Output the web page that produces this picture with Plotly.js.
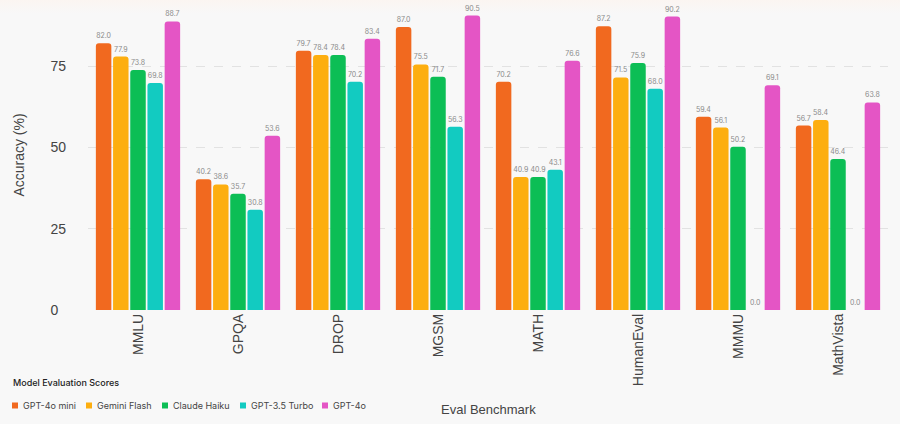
<!DOCTYPE html>
<html>
<head>
<meta charset="utf-8">
<script src="https://cdn.plot.ly/plotly-3.0.1.min.js"></script>
<style>html,body{margin:0;padding:0;background:linear-gradient(#fbf5f1 0px,#f8f8f8 14px,#f8f8f8 100%);}#chart{width:900px;height:424px;}</style>
</head>
<body>
<div id="chart"></div>
<script>
const benchmarks = ["MMLU","GPQA","DROP","MGSM","MATH","HumanEval","MMMU","MathVista"];
const models = ["GPT-4o mini","Gemini Flash","Claude Haiku","GPT-3.5 Turbo","GPT-4o"];
const gpt4oMini = [82.0,40.2,79.7,87.0,70.2,87.2,59.4,56.7];
const geminiFlash = [77.9,38.6,78.4,75.5,40.9,71.5,56.1,58.4];
const claudeHaiku = [73.8,35.7,78.4,71.7,40.9,75.9,50.2,46.4];
const gpt35Turbo = [69.8,30.8,70.2,56.3,43.1,68.0,0.0,0.0];
const gpt4o = [88.7,53.6,83.4,90.5,76.6,90.2,69.1,63.8];
const yTicks = [0,25,50,75];

const series = [gpt4oMini, geminiFlash, claudeHaiku, gpt35Turbo, gpt4o];
const colors = ["#F1691F","#FDAE0F","#0CBE55","#12CBC1","#E455C5"];

const traces = series.map((vals, i) => ({
  type: "bar",
  name: models[i],
  x: benchmarks,
  y: vals,
  marker: {color: colors[i]},
  text: vals.map(v => v.toFixed(1)),
  textposition: "outside",
  textfont: {size: 7, color: "#8a8a8a", family: "Inter, sans-serif"},
  cliponaxis: false,
  showlegend: false,
  hoverinfo: "x+y+name"
}));

// plot-area geometry in px (for placing the custom legend and x title)
const M = {l: 88, r: 12, t: 0, b: 114};
const plotW = 900 - M.l - M.r, plotH = 424 - M.t - M.b;
const px2x = p => (p - M.l) / plotW;
const py2y = p => (plotH + M.t - p) / plotH;

const legendSquareX = [15, 89, 165, 243, 325];
const legendTextX = [21, 95, 171, 249, 331];
const legendY = 405.5;

const shapes = models.map((m, i) => ({
  type: "rect", xref: "paper", yref: "paper",
  xsizemode: "pixel", ysizemode: "pixel",
  xanchor: px2x(legendSquareX[i]), yanchor: py2y(legendY),
  x0: -3, x1: 3, y0: -3, y1: 3,
  fillcolor: colors[i], line: {width: 0}
}));

const annotations = models.map((m, i) => ({
  text: m, xref: "paper", yref: "paper",
  x: px2x(legendTextX[i]), y: py2y(legendY),
  xanchor: "left", yanchor: "middle", showarrow: false,
  font: {family: "Inter, sans-serif", size: 9, color: "#444"}
}));
annotations.push({
  text: "Model Evaluation Scores", xref: "paper", yref: "paper",
  x: px2x(11), y: py2y(383), xanchor: "left", yanchor: "middle", showarrow: false,
  font: {family: "Inter, sans-serif", size: 9, color: "#222", weight: 500}
});
annotations.push({
  text: "Eval Benchmark", xref: "paper", yref: "paper",
  x: 0.5, y: py2y(409), xanchor: "center", yanchor: "middle", showarrow: false,
  font: {family: "'Liberation Sans', Arial, sans-serif", size: 13, color: "#444"}
});

const layout = {
  width: 900, height: 424,
  paper_bgcolor: "rgba(0,0,0,0)",
  plot_bgcolor: "rgba(0,0,0,0)",
  margin: M,
  barmode: "group",
  bargap: 0.14,
  bargroupgap: 0.1,
  barcornerradius: 3,
  font: {family: "'Liberation Sans', Arial, sans-serif", color: "#444"},
  showlegend: false,
  xaxis: {
    range: [-0.5, benchmarks.length - 0.5],
    tickangle: -90,
    tickfont: {size: 14, color: "#444"},
    showgrid: false,
    zeroline: false,
    showline: false,
    automargin: false
  },
  yaxis: {
    range: [0, 95.3],
    tickvals: yTicks,
    ticktext: yTicks.map(v => v < 10 ? v + "\u2007" : String(v)),
    tickfont: {size: 14, color: "#444"},
    ticklabelstandoff: 21,
    title: {text: "Accuracy (%)", font: {size: 14, color: "#444"}, standoff: 22},
    gridcolor: "#e2e2e2",
    griddash: "dash",
    zeroline: false,
    showline: false,
    ticks: "",
    ticklen: 0,
    automargin: false
  },
  shapes: shapes,
  annotations: annotations
};

Plotly.newPlot("chart", traces, layout, {displayModeBar: false, staticPlot: true});
</script>
</body>
</html>
